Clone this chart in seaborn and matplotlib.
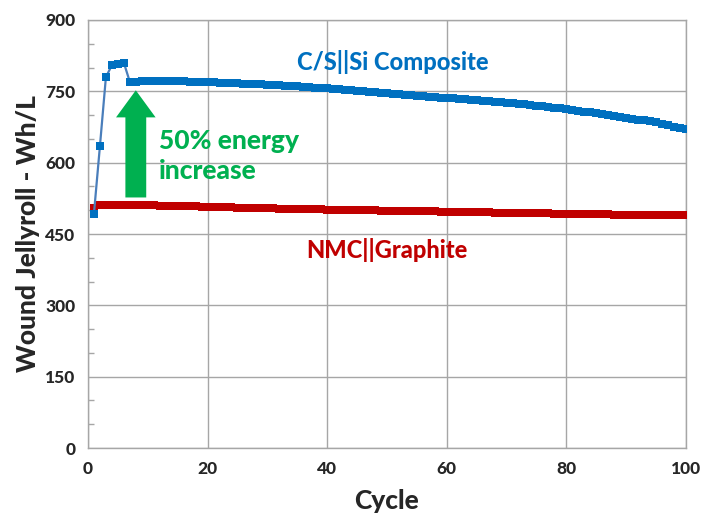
import matplotlib
matplotlib.use("Agg")
import matplotlib.pyplot as plt
import seaborn as sns
import pandas as pd
from matplotlib.ticker import MultipleLocator

cycles = list(range(1, 101))
cs_si = [493, 635, 780, 805, 808, 810, 770, 770, 771, 772,
         772, 772, 772, 771, 771, 771, 770, 770, 769, 769,
         769, 768, 768, 767, 767, 766, 766, 765, 765, 764,
         764, 763, 762, 762, 761, 760, 759, 758, 757, 756,
         755, 754, 753, 752, 751, 750, 749, 748, 747, 746,
         745, 744, 743, 742, 741, 740, 739, 738, 737, 736,
         735, 734, 733, 732, 731, 730, 729, 728, 727, 726,
         725, 724, 723, 722, 720, 719, 717, 716, 714, 712,
         710, 709, 707, 706, 704, 702, 700, 698, 696, 694,
         692, 690, 689, 687, 685, 682, 679, 676, 673, 670]
nmc = [505, 512, 511, 511, 510, 510, 510, 510, 510, 510,
       510, 509, 509, 509, 509, 508, 508, 508, 507, 507,
       507, 506, 506, 506, 505, 505, 505, 504, 504, 504,
       504, 503, 503, 503, 503, 502, 502, 502, 502, 501,
       501, 501, 501, 500, 500, 500, 500, 500, 499, 499,
       499, 499, 499, 498, 498, 498, 498, 498, 497, 497,
       497, 497, 497, 496, 496, 496, 496, 495, 495, 495,
       495, 495, 494, 494, 494, 494, 494, 493, 493, 493,
       493, 493, 492, 492, 492, 492, 492, 491, 491, 491,
       491, 491, 491, 490, 490, 490, 490, 490, 490, 490]
series_labels = ["C/S||Si Composite", "NMC||Graphite"]
x_ticks = [0, 20, 40, 60, 80, 100]
y_ticks = [0, 150, 300, 450, 600, 750, 900]

sns.set_theme(style="white")
plt.rcParams['font.family'] = ['Lato', 'DejaVu Sans']
W = 900

fig = plt.figure(figsize=(7.01, 5.18), dpi=100)
ax = fig.add_axes([0.1255, 0.1351, 0.853, 0.8263])

df_b = pd.DataFrame({"cycle": cycles, "val": cs_si})
df_r = pd.DataFrame({"cycle": cycles, "val": nmc})

sns.lineplot(data=df_r, x="cycle", y="val", ax=ax, color="#C00000", lw=2.5,
             marker="s", markersize=5.5, markeredgewidth=0, markerfacecolor="#C00000", zorder=3)
sns.lineplot(data=df_b, x="cycle", y="val", ax=ax, color="#4A7EBB", lw=1.6,
             marker="s", markersize=5.5, markeredgewidth=0, markerfacecolor="#0070C0", zorder=4)

ax.set_xlim(0, 100)
ax.set_ylim(0, 900)
ax.set_xticks(x_ticks)
ax.set_yticks(y_ticks)
ax.yaxis.set_minor_locator(MultipleLocator(50))
ax.grid(True, which="major", color="#A6A6A6", lw=1.0)
ax.set_axisbelow(True)
for s in ax.spines.values():
    s.set_color("#A6A6A6")
    s.set_linewidth(1.0)
ax.tick_params(axis="both", which="major", length=0, labelsize=12.5, pad=9)
ax.tick_params(axis="y", which="minor", direction="in", length=4, color="#A6A6A6", width=1, left=True)
for lab in ax.get_xticklabels() + ax.get_yticklabels():
    lab.set_fontweight(W)
ax.set_xlabel("Cycle", fontsize=19, fontweight=W, labelpad=9)
ax.set_ylabel("Wound Jellyroll - Wh/L", fontsize=19, fontweight=W, labelpad=4)

ax.text(51, 811, series_labels[0], color="#0070C0", fontsize=17, fontweight=W, ha="center", va="center")
ax.text(50, 416, series_labels[1], color="#C00000", fontsize=17, fontweight=W, ha="center", va="center")
ax.text(11.8, 614, "50% energy\nincrease", color="#00B050", fontsize=19, fontweight=W,
        ha="left", va="center", linespacing=1.3)
ax.annotate("", xy=(8, 758), xytext=(8, 521),
            arrowprops=dict(arrowstyle="simple,head_width=1.9,tail_width=1.0,head_length=1.3",
                            color="#00B050", lw=0, mutation_scale=15), zorder=5)

fig.savefig("out.png", dpi=100)
